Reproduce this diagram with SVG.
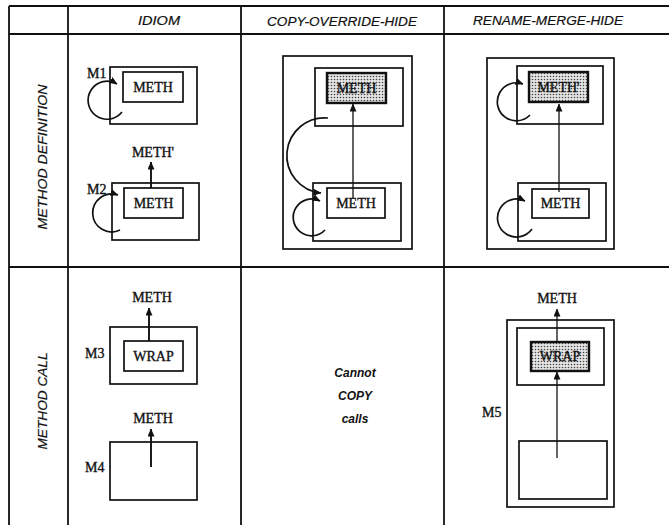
<svg xmlns="http://www.w3.org/2000/svg" width="669" height="525" viewBox="0 0 669 525">
<style>
.grid{stroke:#111;stroke-width:1.8;fill:none}
.box{fill:none;stroke:#111;stroke-width:1.7}
.shade{fill:url(#dots);stroke:#111;stroke-width:2.4}
.lbl{font-family:"Liberation Serif",serif;font-size:14px;fill:#111;stroke:#111;stroke-width:0.35}
.hdr{font-family:"Liberation Sans",sans-serif;font-style:italic;font-size:13px;fill:#111;stroke:#111;stroke-width:0.2}
.note{font-family:"Liberation Sans",sans-serif;font-style:italic;font-weight:bold;font-size:12px;fill:#111}
.arr{fill:none;stroke:#111;stroke-width:1.9}
.thin{fill:none;stroke:#111;stroke-width:1.3}
.loop{fill:none;stroke:#111;stroke-width:1.7}
</style>
<defs>
<pattern id="dots" width="3" height="3" patternUnits="userSpaceOnUse">
<rect width="3" height="3" fill="#e4e4e4"/>
<circle cx="1.5" cy="1.5" r="0.8" fill="#444"/>
</pattern>
<marker id="ah" markerUnits="userSpaceOnUse" markerWidth="8" markerHeight="7" refX="7.5" refY="3.5" orient="auto">
<path d="M0,0 L8,3.5 L0,7 z" fill="#111"/>
</marker>
</defs>
<rect width="669" height="525" fill="#fff"/>
<g id="table">
<line class="grid" x1="9" y1="6" x2="669" y2="6"/>
<line class="grid" x1="9" y1="34" x2="669" y2="34"/>
<line class="grid" x1="9" y1="267" x2="669" y2="267"/>
<line class="grid" x1="9" y1="6" x2="9" y2="525"/>
<line class="grid" x1="68" y1="6" x2="68" y2="525"/>
<line class="grid" x1="241" y1="6" x2="241" y2="525"/>
<line class="grid" x1="444" y1="6" x2="444" y2="525"/>
<text class="hdr" x="159" y="25" text-anchor="middle" textLength="42" lengthAdjust="spacingAndGlyphs">IDIOM</text>
<text class="hdr" x="342" y="26" text-anchor="middle" textLength="150" lengthAdjust="spacingAndGlyphs">COPY-OVERRIDE-HIDE</text>
<text class="hdr" x="548" y="25" text-anchor="middle" textLength="150" lengthAdjust="spacingAndGlyphs">RENAME-MERGE-HIDE</text>
<text class="hdr" transform="translate(47,157) rotate(-90)" text-anchor="middle" textLength="145" lengthAdjust="spacingAndGlyphs">METHOD DEFINITION</text>
<text class="hdr" transform="translate(47,401) rotate(-90)" text-anchor="middle" textLength="97" lengthAdjust="spacingAndGlyphs">METHOD CALL</text>
</g>
<g id="M1">
<rect class="box" x="110" y="67" width="87" height="57"/>
<text class="lbl" x="87" y="78">M1</text>
</g>
<g id="M1-meth">
<rect class="box" x="123" y="72" width="60" height="30"/>
<text class="lbl" x="153" y="92" text-anchor="middle">METH</text>
</g>
<g id="meth-prime-label">
<text class="lbl" x="153" y="157" text-anchor="middle">METH'</text>
</g>
<g id="M2">
<rect class="box" x="112" y="183" width="87" height="57"/>
<text class="lbl" x="87" y="194">M2</text>
</g>
<g id="M2-meth">
<rect class="box" x="124" y="188" width="59" height="30"/>
<text class="lbl" x="153.5" y="208" text-anchor="middle">METH</text>
</g>
<g id="M3-label">
<text class="lbl" x="152" y="302" text-anchor="middle">METH</text>
</g>
<g id="M3">
<rect class="box" x="110" y="327" width="87" height="57"/>
<text class="lbl" x="85" y="358">M3</text>
</g>
<g id="M3-wrap">
<rect class="box" x="124" y="341" width="59" height="30"/>
<text class="lbl" x="153.5" y="361" text-anchor="middle">WRAP</text>
</g>
<g id="M4-label">
<text class="lbl" x="153" y="423" text-anchor="middle">METH</text>
</g>
<g id="M4">
<rect class="box" x="110" y="442" width="87" height="58"/>
<text class="lbl" x="85" y="472">M4</text>
</g>
<g id="C-outer">
<rect class="box" x="283" y="56" width="129" height="193"/>
</g>
<g id="C-top">
<rect class="box" x="315" y="68" width="88" height="58"/>
</g>
<g id="C-top-meth">
<rect class="shade" x="327" y="73" width="59" height="30"/>
<text class="lbl" x="356.5" y="93" text-anchor="middle">METH</text>
</g>
<g id="C-bottom">
<rect class="box" x="313" y="183" width="88" height="58"/>
</g>
<g id="C-bottom-meth">
<rect class="box" x="327" y="188" width="58" height="30"/>
<text class="lbl" x="356" y="208" text-anchor="middle">METH</text>
</g>
<g id="cannot-copy">
<text class="note" x="355" y="377" text-anchor="middle">Cannot</text>
<text class="note" x="355" y="400" text-anchor="middle" font-weight="normal">COPY</text>
<text class="note" x="355" y="423" text-anchor="middle">calls</text>
</g>
<g id="R-outer">
<rect class="box" x="487" y="58" width="127" height="191"/>
</g>
<g id="R-top">
<rect class="box" x="517" y="66" width="86" height="58"/>
</g>
<g id="R-top-meth">
<rect class="shade" x="529" y="72" width="59" height="30"/>
<text class="lbl" x="558.5" y="92" text-anchor="middle">METH'</text>
</g>
<g id="R-bottom">
<rect class="box" x="518" y="183" width="88" height="58"/>
</g>
<g id="R-bottom-meth">
<rect class="box" x="532" y="189" width="57" height="29"/>
<text class="lbl" x="560.5" y="208" text-anchor="middle">METH</text>
</g>
<g id="M5-label">
<text class="lbl" x="557" y="303" text-anchor="middle">METH</text>
</g>
<g id="M5">
<rect class="box" x="507" y="320" width="107" height="187"/>
<text class="lbl" x="482" y="417">M5</text>
</g>
<g id="M5-inner">
<rect class="box" x="517" y="328" width="87" height="57"/>
</g>
<g id="M5-wrap">
<rect class="shade" x="531" y="342" width="58" height="29"/>
<text class="lbl" x="560" y="361" text-anchor="middle">WRAP</text>
</g>
<g id="M5-bottom">
<rect class="box" x="519" y="441" width="88" height="58"/>
</g>
<g id="connectors">
<path class="loop" d="M122,112 A19,19 0 1 1 117,84" marker-end="url(#ah)"/>
<path class="loop" d="M120,230 A19,19 0 1 1 118,195" marker-end="url(#ah)"/>
<line class="arr" x1="151" y1="188" x2="151" y2="162" marker-end="url(#ah)"/>
<line class="arr" x1="149" y1="341" x2="149" y2="308" marker-end="url(#ah)"/>
<line class="arr" x1="151" y1="467" x2="151" y2="429" marker-end="url(#ah)"/>
<line class="thin" x1="353" y1="198" x2="353" y2="104" marker-end="url(#ah)"/>
<path class="loop" d="M328,118 A37,37 0 0 0 321,193" marker-end="url(#ah)"/>
<path class="loop" d="M325,230 A18.4,18.4 0 1 1 320,201" marker-end="url(#ah)"/>
<path class="loop" d="M530,115 A19,19 0 1 1 523,84" marker-end="url(#ah)"/>
<path class="loop" d="M532,229 A19,19 0 1 1 525,201" marker-end="url(#ah)"/>
<line class="thin" x1="559" y1="192" x2="559" y2="104" marker-end="url(#ah)"/>
<line class="thin" x1="557" y1="458" x2="557" y2="372" marker-end="url(#ah)"/>
<line class="thin" x1="557" y1="342" x2="557" y2="309" marker-end="url(#ah)"/>
</g>
</svg>
